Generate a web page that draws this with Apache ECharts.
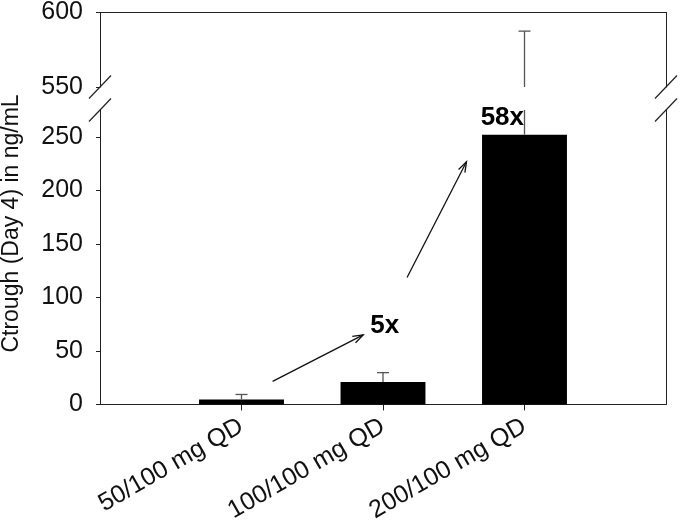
<!DOCTYPE html>
<html><head><meta charset="utf-8">
<script src="https://cdn.jsdelivr.net/npm/echarts@6/dist/echarts.min.js"></script>
<style>html,body{margin:0;padding:0;background:#fff}#c{width:680px;height:525px}</style>
</head><body><div id="c"></div>
<script>
// ---- data ----
const categories = ['50/100 mg QD', '100/100 mg QD', '200/100 mg QD'];
const positions = [1, 2, 3];
const means = [4.7, 21, 252];
const errorTops = [9.3, 29.7, 587.5];
const lowerTicks = [0, 50, 100, 150, 200, 250];
const upperTicks = [550, 600];
const lowerMax = 275;
const upperMin = 550;
const upperMax = 600;
const annotationLabels = ['5x', '58x'];
const annotationX = [1.91, 2.69];
const annotationY = [73, 268];
const arrowFrom = [[1.22, 21.6], [2.17, 118.5]];
const arrowTo = [[1.86, 65], [2.59, 226.6]];
const yAxisTitle = 'Ctrough (Day 4) in ng/mL';

// ---- chart ----
const FONT = '"Liberation Sans", Arial, sans-serif';
const AX = '#222';
const chart = echarts.init(document.getElementById('c'));

const lineStyle = { color: AX, width: 1 };
const noSplit = { show: false };

function errRender(clampLow, clampHigh) {
  return function (params, api) {
    const x = api.value(0);
    let lo = Math.max(api.value(1), clampLow);
    let hi = api.value(2);
    const capped = hi <= clampHigh;
    hi = Math.min(hi, clampHigh);
    const p0 = api.coord([x, lo]);
    const p1 = api.coord([x, hi]);
    const children = [{
      type: 'line', shape: { x1: p0[0], y1: p0[1], x2: p1[0], y2: p1[1] },
      style: { stroke: '#555', lineWidth: 1.3 }
    }];
    if (capped) {
      children.push({
        type: 'line', shape: { x1: p1[0] - 6, y1: p1[1], x2: p1[0] + 6, y2: p1[1] },
        style: { stroke: '#555', lineWidth: 1.3 }
      });
    }
    return { type: 'group', children };
  };
}

const errData = positions.map((p, i) => [p, means[i], errorTops[i]]);

const option = {
  animation: false,
  backgroundColor: '#fff',
  textStyle: { fontFamily: FONT },
  grid: [
    { left: 100, right: 14, top: 10, height: 77 },
    { left: 100, right: 14, top: 110, bottom: 119 }
  ],
  xAxis: [
    { gridIndex: 0, type: 'value', min: 0, max: 4, position: 'top',
      axisLine: { show: true, onZero: false, lineStyle },
      axisTick: { show: false }, axisLabel: { show: false }, splitLine: noSplit },
    { gridIndex: 1, type: 'value', min: 0, max: 4, position: 'bottom',
      axisLine: { show: true, onZero: false, lineStyle },
      axisTick: { show: true, customValues: positions, length: 6, lineStyle },
      axisLabel: { customValues: positions, formatter: v => categories[v - 1] || '',
        rotate: 30, fontSize: 25, color: '#111', fontFamily: FONT, margin: 20 },
      splitLine: noSplit }
  ],
  yAxis: [
    { gridIndex: 0, type: 'value', min: upperMin, max: upperMax,
      axisLine: { show: true, onZero: false, lineStyle },
      axisTick: { show: true, customValues: upperTicks, length: 4, lineStyle },
      axisLabel: { customValues: upperTicks, fontSize: 25, color: '#111', fontFamily: FONT, margin: 17 },
      splitLine: noSplit },
    { gridIndex: 0, type: 'value', min: upperMin, max: upperMax, position: 'right',
      axisLine: { show: true, onZero: false, lineStyle },
      axisTick: { show: false }, axisLabel: { show: false }, splitLine: noSplit },
    { gridIndex: 1, type: 'value', min: 0, max: lowerMax,
      axisLine: { show: true, onZero: false, lineStyle },
      axisTick: { show: true, customValues: lowerTicks, length: 4, lineStyle },
      axisLabel: { customValues: lowerTicks, fontSize: 25, color: '#111', fontFamily: FONT, margin: 17 },
      splitLine: noSplit },
    { gridIndex: 1, type: 'value', min: 0, max: lowerMax, position: 'right',
      axisLine: { show: true, onZero: false, lineStyle },
      axisTick: { show: false }, axisLabel: { show: false }, splitLine: noSplit }
  ],
  series: [
    { type: 'bar', xAxisIndex: 1, yAxisIndex: 2, barWidth: '60%',
      itemStyle: { color: '#000' },
      data: positions.map((p, i) => [p, means[i]]) },
    { type: 'custom', xAxisIndex: 1, yAxisIndex: 2, z: 3,
      renderItem: errRender(-Infinity, lowerMax), data: errData },
    { type: 'custom', xAxisIndex: 0, yAxisIndex: 0, z: 3,
      renderItem: errRender(upperMin, Infinity),
      data: errData.filter(d => d[2] > upperMin) },
    { type: 'custom', xAxisIndex: 1, yAxisIndex: 2, z: 4,
      data: arrowFrom.map((f, i) => [f[0], f[1], arrowTo[i][0], arrowTo[i][1]]),
      renderItem: function (params, api) {
        const a = api.coord([api.value(0), api.value(1)]);
        const b = api.coord([api.value(2), api.value(3)]);
        const ang = Math.atan2(b[1] - a[1], b[0] - a[0]);
        const L = 11, w = 0.33;
        const h1 = [b[0] - L * Math.cos(ang - w), b[1] - L * Math.sin(ang - w)];
        const h2 = [b[0] - L * Math.cos(ang + w), b[1] - L * Math.sin(ang + w)];
        return { type: 'group', children: [
          { type: 'line', shape: { x1: a[0], y1: a[1], x2: b[0], y2: b[1] }, style: { stroke: '#111', lineWidth: 1.3 } },
          { type: 'polyline', shape: { points: [h1, b, h2] }, style: { stroke: '#111', lineWidth: 1.3, fill: null } }
        ] };
      } },
    { type: 'custom', xAxisIndex: 1, yAxisIndex: 2, z: 4,
      data: annotationLabels.map((t, i) => [annotationX[i], annotationY[i], t]),
      renderItem: function (params, api) {
        const p = api.coord([api.value(0), api.value(1)]);
        return { type: 'text', x: p[0], y: p[1],
          style: { text: annotationLabels[params.dataIndex], font: 'bold 26px ' + FONT,
            fill: '#000', align: 'left', verticalAlign: 'middle' } };
      } }
  ]
};
chart.setOption(option);

// break marks and y-axis title
const bl = chart.convertToPixel({ xAxisIndex: 0, yAxisIndex: 0 }, [0, upperMin]);
const br = chart.convertToPixel({ xAxisIndex: 0, yAxisIndex: 0 }, [4, upperMin]);
const tl = chart.convertToPixel({ xAxisIndex: 1, yAxisIndex: 2 }, [0, lowerMax]);
const tr = chart.convertToPixel({ xAxisIndex: 1, yAxisIndex: 2 }, [4, lowerMax]);
const slash = c => ({ type: 'line', z: 10,
  shape: { x1: c[0] - 11, y1: c[1] + 11.5, x2: c[0] + 11, y2: c[1] - 11.5 },
  style: { stroke: '#222', lineWidth: 1.2 } });
const topY = chart.convertToPixel({ xAxisIndex: 0, yAxisIndex: 0 }, [0, upperMax])[1];
const botY = chart.convertToPixel({ xAxisIndex: 1, yAxisIndex: 2 }, [0, 0])[1];
chart.setOption({ graphic: [
  slash(bl), slash(br), slash(tl), slash(tr),
  { type: 'text', x: 12, y: (topY + botY) / 2 + 15, rotation: Math.PI / 2,
    style: { text: yAxisTitle, font: '23px ' + FONT, fill: '#111', align: 'center', verticalAlign: 'middle' } }
] });
</script></body></html>
